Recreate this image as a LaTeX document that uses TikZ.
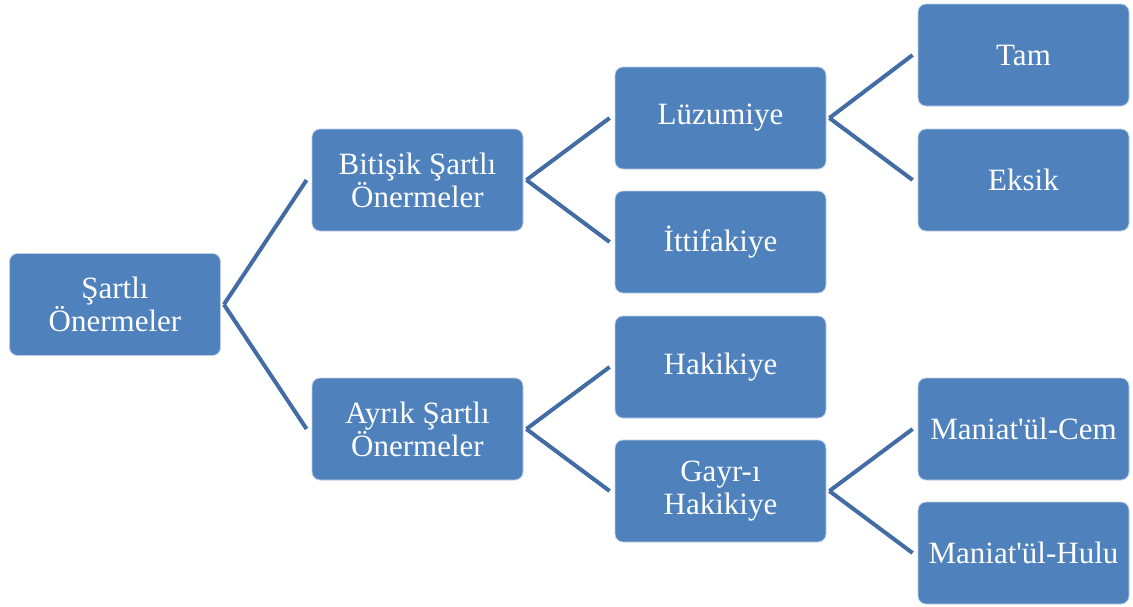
\documentclass[tikz,border=0pt]{standalone}
\usepackage{fontspec}
\setmainfont{Liberation Serif}
\definecolor{boxfill}{RGB}{79,129,189}
\definecolor{boxline}{RGB}{190,208,232}
\definecolor{linkcol}{RGB}{66,108,164}
\begin{document}
\begin{tikzpicture}[x=1pt,y=-1pt,
  box/.style={rectangle, rounded corners=8pt, fill=boxfill, draw=boxline, line width=0.8pt,
    minimum width=211pt, minimum height=102pt, inner sep=0pt, align=center, text=white,
    font=\fontsize{31}{33}\selectfont},
  link/.style={draw=linkcol, line width=4pt}]
\useasboundingbox (0,0) rectangle (1133,606);
\node[box] (sart) at (115,304.5) {Şartlı\\Önermeler};
\node[box] (bit) at (417.5,180) {Bitişik Şartlı\\Önermeler};
\node[box] (ayr) at (417.5,429) {Ayrık Şartlı\\Önermeler};
\node[box] (luz) at (720.5,118) {Lüzumiye};
\node[box] (itt) at (720.5,242) {İttifakiye};
\node[box] (hak) at (720.5,367) {Hakikiye};
\node[box] (gay) at (720.5,491) {Gayr-ı\\Hakikiye};
\node[box] (tam) at (1023.5,55) {Tam};
\node[box] (eks) at (1023.5,180) {Eksik};
\node[box] (cem) at (1023.5,429) {Maniat\textquotesingle ül-Cem};
\node[box] (hul) at (1023.5,553) {Maniat\textquotesingle ül-Hulu};
\foreach \p/\c in {sart/bit, sart/ayr, bit/luz, bit/itt, ayr/hak, ayr/gay, luz/tam, luz/eks, gay/cem, gay/hul}
  \draw[link] ([xshift=3pt]\p.east) -- ([xshift=-5pt]\c.west);
\end{tikzpicture}
\end{document}
